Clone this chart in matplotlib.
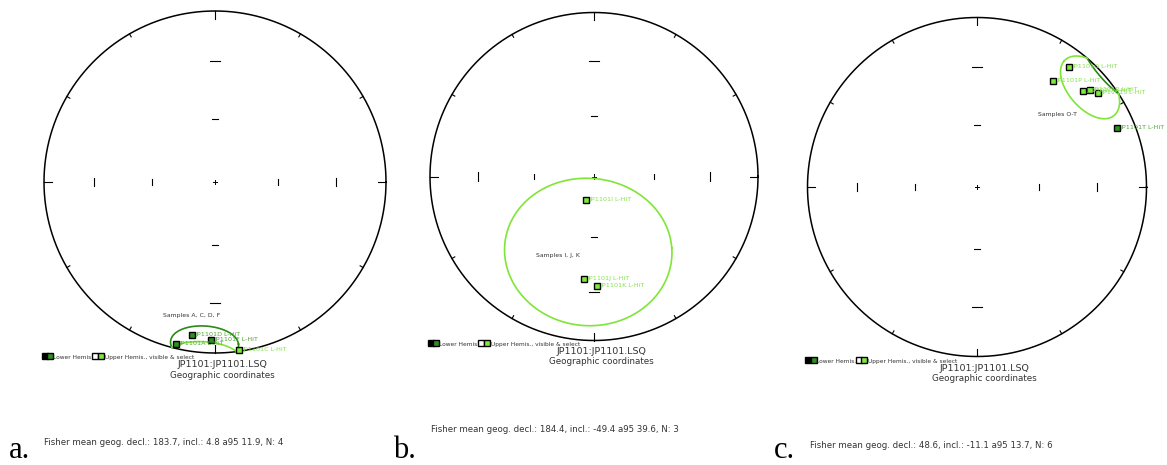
import numpy as np
import matplotlib
matplotlib.use("Agg")
import matplotlib.pyplot as plt

# ---------------- data ----------------
panel_letters = ["a.", "b.", "c."]
group_titles = ["Samples A, C, D, F", "Samples I, J, K", "Samples O-T"]

a_names = ["JP1101A L-HiT", "JP1101C L-HiT", "JP1101D L-HiT", "JP1101F L-HiT"]
a_dec = [193.5, 171.9, 188.4, 181.5]
a_inc = [2.7, -0.9, 10.5, 8.4]

b_names = ["JP1101I L-HiT", "JP1101J L-HiT", "JP1101K L-HiT"]
b_dec = [199.5, 185.7, 178.6]
b_inc = [-77.7, -37.3, -33.8]

c_names = ["JP1101O L-HiT", "JP1101P L-HiT", "JP1101Q L-HiT",
           "JP1101R L-HiT", "JP1101S L-HiT", "JP1101T L-HiT"]
c_dec = [37.6, 35.7, 47.8, 49.4, 52.2, 67.2]
c_inc = [-11.7, -23.8, -16.9, -13.2, -10.6, 11.2]

mean_dec = [183.7, 184.4, 48.6]
mean_inc = [4.8, -49.4, -11.1]
mean_a95 = [11.9, 39.6, 13.7]
mean_n = [4, 3, 6]

file_title = "JP1101:JP1101.LSQ"
coord_title = "Geographic coordinates"

# ---------------- layout / style ----------------
W, H, DPI = 1167, 465, 100
centers = [(215, 182), (594, 176.5), (977, 187)]
radii = [171, 164, 169.5]
group_pos = [(-0.136, -0.780), (-0.218, -0.479), (0.476, 0.427)]
fisher_pos = [(43.5, 442), (431, 429), (810, 445)]
letter_pos = [(9, 465), (393, 465), (774, 465)]

LOW_FILL = "#2f8f1f"
UP_FILL = "#7ee83f"
LOW_CIRC = "#2a8a14"
UP_CIRC = "#7fe536"
LOW_LABEL = "#52a638"
UP_LABEL = "#86e24f"
TXT = "#333333"


def proj(dec, inc):
    dec = np.radians(np.asarray(dec, float))
    inc = np.radians(np.abs(np.asarray(inc, float)))
    r = np.sqrt(2.0) * np.sin((np.pi / 2 - inc) / 2.0)
    return r * np.sin(dec), r * np.cos(dec)


def small_circle(d0, i0, a, n=721):
    d0, i0, a = np.radians(d0), np.radians(i0), np.radians(a)
    m = np.array([np.cos(i0) * np.cos(d0), np.cos(i0) * np.sin(d0), np.sin(i0)])
    u = np.cross(m, [0.0, 0.0, 1.0])
    u /= np.linalg.norm(u)
    v = np.cross(m, u)
    t = np.linspace(0, 2 * np.pi, n)
    pts = (np.cos(a) * m[:, None]
           + np.sin(a) * (np.cos(t)[None, :] * u[:, None] + np.sin(t)[None, :] * v[:, None]))
    dec = np.degrees(np.arctan2(pts[1], pts[0]))
    inc = np.degrees(np.arcsin(np.clip(pts[2], -1, 1)))
    return dec, inc


fig = plt.figure(figsize=(W / DPI, H / DPI), dpi=DPI)
fig.patch.set_facecolor("white")

panels = [(a_names, a_dec, a_inc), (b_names, b_dec, b_inc), (c_names, c_dec, c_inc)]

for k, (names, decs, incs) in enumerate(panels):
    cx, cy = centers[k]
    R = radii[k]
    ax = fig.add_axes([(cx - R) / W, (H - cy - R) / H, 2 * R / W, 2 * R / H])
    ax.set_xlim(-1, 1)
    ax.set_ylim(-1, 1)
    ax.set_aspect("equal")
    ax.axis("off")

    # primitive circle
    th = np.linspace(0, 2 * np.pi, 721)
    ax.plot(np.cos(th), np.sin(th), color="black", lw=1.1, clip_on=False)
    for az in range(0, 360, 30):
        ln = 0.047 if az % 90 == 0 else 0.02
        s, c = np.sin(np.radians(az)), np.cos(np.radians(az))
        ax.plot([s * (1 - ln), s * 1.0], [c * (1 - ln), c * 1.0],
                color="black", lw=0.8, clip_on=False)
    # axis ticks at 30 and 60 deg inclination
    for inc_t, hl_v, hl_h in [(30, 0.026, 0.03), (60, 0.015, 0.017)]:
        rr = np.sqrt(2.0) * np.sin(np.radians(90 - inc_t) / 2)
        for sgn in (-1, 1):
            ax.plot([sgn * rr, sgn * rr], [-hl_v, hl_v], color="black", lw=0.8)
            ax.plot([-hl_h, hl_h], [sgn * rr, sgn * rr], color="black", lw=0.8)
    ax.plot([-0.013, 0.013], [0, 0], color="black", lw=0.7)
    ax.plot([0, 0], [-0.013, 0.013], color="black", lw=0.7)

    # confidence circle
    cd, ci = small_circle(mean_dec[k], mean_inc[k], mean_a95[k])
    cxs, cys = proj(cd, ci)
    lower = ci >= 0
    for mask, col in ((lower, LOW_CIRC), (~lower, UP_CIRC)):
        ext = mask | np.roll(mask, 1) | np.roll(mask, -1)
        if mask.any():
            ax.plot(np.ma.masked_where(~ext, cxs), np.ma.masked_where(~ext, cys),
                    color=col, lw=1.2, clip_on=False)

    # points
    px, py = proj(decs, incs)
    for name, x, y, inc in zip(names, px, py, incs):
        lowp = inc >= 0
        ax.plot([x], [y], "s", ms=4.0, mfc=LOW_FILL if lowp else UP_FILL,
                mec="black", mew=1.0, clip_on=False, zorder=5)
        ax.annotate(name, (x, y), xytext=(2.4, 0.4), textcoords="offset points",
                    fontsize=4.6, color=LOW_LABEL if lowp else UP_LABEL,
                    va="center", ha="left", zorder=6)

    gx, gy = group_pos[k]
    ax.text(gx, gy, group_titles[k], fontsize=4.4, color=TXT, ha="center", va="center")

    # legend
    x0, y0 = -0.995, -1.018
    ax.plot([x0], [y0], "s", ms=4.0, mfc="black", mec="black", mew=1.0, clip_on=False)
    ax.plot([x0 + 5.5 / R], [y0], "s", ms=4.0, mfc=LOW_FILL, mec="black", mew=1.0, clip_on=False)
    ax.text(x0 + 8.0 / R, y0 - 1.5 / R, "Lower Hemis.", fontsize=4.2, color=TXT,
            ha="left", va="center")
    ax.plot([x0 + 50.5 / R], [y0], "s", ms=4.0, mfc="white", mec="black", mew=1.0, clip_on=False)
    ax.plot([x0 + 56.0 / R], [y0], "s", ms=4.0, mfc=UP_FILL, mec="black", mew=1.0, clip_on=False)
    ax.text(x0 + 60.0 / R, y0 - 1.5 / R, "Upper Hemis., visible & select", fontsize=4.2,
            color=TXT, ha="left", va="center")

    ax.text(0.045, -1.068, file_title, fontsize=6.8, color=TXT, ha="center", va="center")
    ax.text(0.045, -1.13, coord_title, fontsize=6.3, color=TXT, ha="center", va="center")

    # Fisher summary text and panel letter
    fx, fy = fisher_pos[k]
    fig.text(fx / W, 1 - fy / H,
             f"Fisher mean geog. decl.: {mean_dec[k]}, incl.: {mean_inc[k]} a95 {mean_a95[k]}, N: {mean_n[k]}",
             fontsize=6.2, color=TXT, ha="left", va="center")
    lx, ly = letter_pos[k]
    fig.text(lx / W, 1 - ly / H, panel_letters[k], fontsize=22, family="Liberation Serif",
             color="black", ha="left", va="bottom")

fig.savefig("out.png", dpi=DPI, facecolor="white")
